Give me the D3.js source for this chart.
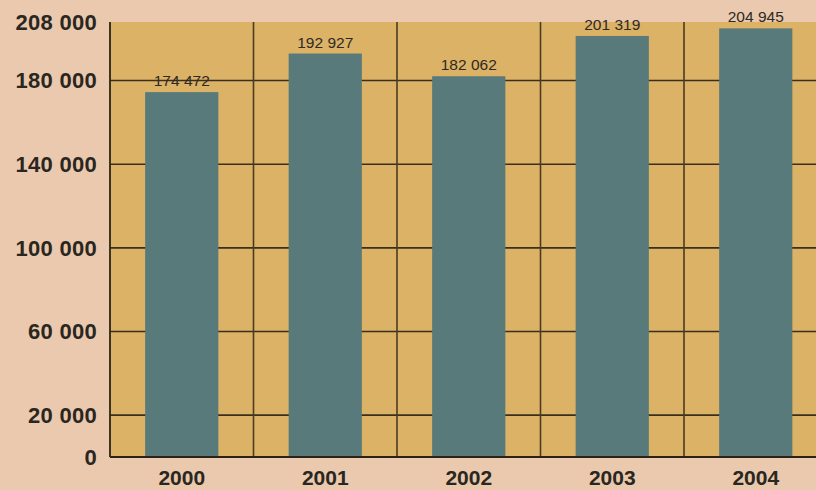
<!DOCTYPE html>
<html>
<head>
<meta charset="utf-8">
<script src="https://cdn.jsdelivr.net/npm/d3@7"></script>
<style>
  body { margin: 0; background: #eac9ae; }
  svg { display: block; }
</style>
</head>
<body>
<div id="chart"></div>
<script>
const years = ["2000", "2001", "2002", "2003", "2004"];
const values = [174472, 192927, 182062, 201319, 204945];
const yTicks = [0, 20000, 60000, 100000, 140000, 180000, 208000];

const width = 816, height = 490;
const margin = {left: 110, top: 22, bottom: 33};
const plotRight = 110 + 5 * 143.5;

const fmt = d3.formatLocale({decimal: ",", thousands: " ", grouping: [3], currency: ["", ""]}).format(",d");

let svg = d3.select("#chart").append("svg")
    .attr("width", width)
    .attr("height", height);

// background
svg.append("rect")
    .attr("width", width)
    .attr("height", height)
    .attr("fill", "#eac9ae");

const y = d3.scaleLinear()
    .domain([0, 208000])
    .range([height - margin.bottom, margin.top]);

const xGrid = d3.scaleBand()
    .domain(years)
    .range([margin.left, plotRight])
    .padding(0);

const x = d3.scaleBand()
    .domain(years)
    .range([margin.left, plotRight])
    .paddingInner(0.49)
    .paddingOuter(0.245);

// plot area
svg.append("rect")
    .attr("x", margin.left)
    .attr("y", y(208000))
    .attr("width", plotRight - margin.left)
    .attr("height", y(0) - y(208000))
    .attr("fill", "#dcb266");

// horizontal grid
svg.append("g").selectAll("line")
    .data(yTicks.filter(d => d > 0 && d < 208000))
    .join("line")
    .attr("x1", margin.left)
    .attr("x2", plotRight)
    .attr("y1", d => y(d))
    .attr("y2", d => y(d))
    .attr("stroke", "#3a2e1c")
    .attr("stroke-width", 1.6);

// vertical grid
svg.append("g").selectAll("line")
    .data(years.slice(1))
    .join("line")
    .attr("x1", d => xGrid(d))
    .attr("x2", d => xGrid(d))
    .attr("y1", y(208000))
    .attr("y2", y(0))
    .attr("stroke", "#4a3c22")
    .attr("stroke-width", 1.6);

// bars
svg.append("g").selectAll("rect")
    .data(years)
    .join("rect")
    .attr("x", d => x(d))
    .attr("y", (d, i) => y(values[i]))
    .attr("width", x.bandwidth())
    .attr("height", (d, i) => y(0) - y(values[i]))
    .attr("fill", "#587a7a");

// value labels
svg.append("g").selectAll("text")
    .data(years)
    .join("text")
    .attr("x", d => x(d) + x.bandwidth() / 2)
    .attr("y", (d, i) => y(values[i]) - 6)
    .attr("text-anchor", "middle")
    .attr("font-family", "Liberation Sans, Arial, sans-serif")
    .attr("font-size", 15.5)
    .attr("fill", "#2e2a24")
    .text((d, i) => fmt(values[i]));

// axis lines
svg.append("line")
    .attr("x1", margin.left).attr("x2", margin.left)
    .attr("y1", y(208000)).attr("y2", y(0))
    .attr("stroke", "#2a2418").attr("stroke-width", 1.8);
svg.append("line")
    .attr("x1", margin.left).attr("x2", plotRight)
    .attr("y1", y(0)).attr("y2", y(0))
    .attr("stroke", "#2a2418").attr("stroke-width", 1.8);

// y tick labels
svg.append("g").selectAll("text")
    .data(yTicks)
    .join("text")
    .attr("x", 97)
    .attr("y", d => y(d))
    .attr("dy", "0.36em")
    .attr("text-anchor", "end")
    .attr("font-family", "Liberation Sans, Arial, sans-serif")
    .attr("font-weight", "bold")
    .attr("font-size", 22)
    .attr("letter-spacing", 0.3)
    .attr("fill", "#2a2620")
    .text(d => fmt(d));

// x labels
svg.append("g").selectAll("text")
    .data(years)
    .join("text")
    .attr("x", d => x(d) + x.bandwidth() / 2)
    .attr("y", 485)
    .attr("text-anchor", "middle")
    .attr("font-family", "Liberation Sans, Arial, sans-serif")
    .attr("font-weight", "bold")
    .attr("font-size", 21)
    .attr("fill", "#2a2620")
    .text(d => d);
</script>
</body>
</html>
